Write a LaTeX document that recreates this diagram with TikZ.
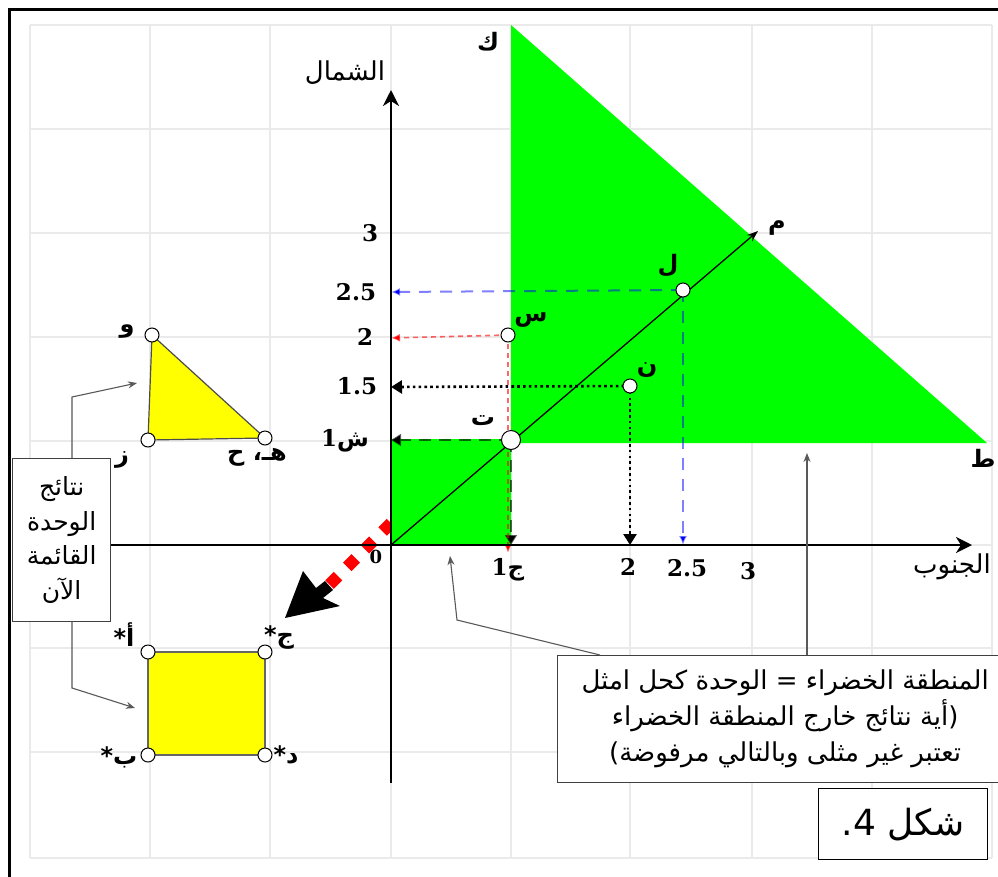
\documentclass[tikz,border=0pt]{standalone}
\usepackage{fontspec}
\usetikzlibrary{arrows.meta}
\TeXXeTstate=1
\newfontfamily\arf[Script=Arabic]{DejaVu Sans}
\newfontfamily\numf{DejaVu Serif}
\newcommand\AR[1]{{\arf\beginR #1\endR}}
\definecolor{grn}{RGB}{0,255,0}
\definecolor{ylw}{RGB}{255,255,0}
\definecolor{gridc}{RGB}{234,234,234}
\begin{document}
\begin{tikzpicture}[x=1pt,y=-1pt,
 gridline/.style={draw=gridc,line width=1.3pt},
 pt/.style={circle,draw=black,fill=white,line width=1pt,inner sep=0pt,minimum size=14pt},
 num/.style={font=\numf\bfseries\fontsize{23}{25}\selectfont,inner sep=0pt},
 lbl/.style={font=\arf\bfseries\fontsize{24}{26}\selectfont,inner sep=0pt},
 ttl/.style={font=\arf\fontsize{26}{28}\selectfont,inner sep=0pt},
 axisline/.style={line width=2.6pt,-{Stealth[length=16pt,width=16pt,inset=5pt]}},
 lead/.style={draw=black!65,line width=1.1pt,-{Stealth[length=9pt,width=7pt]}},
 bluedash/.style={blue,draw opacity=0.5,line width=2pt,dash pattern=on 12pt off 9pt,-{Latex[length=9pt,width=8pt]}},
 reddash/.style={red,draw opacity=0.6,line width=1.6pt,dash pattern=on 5pt off 4pt,-{Latex[length=9pt,width=8pt]}},
 blackdot/.style={black,line width=2.6pt,dash pattern=on 2.6pt off 3.2pt,-{Triangle[length=11pt,width=13pt]}},
 blackdash/.style={black,draw opacity=0.6,line width=1.8pt,dash pattern=on 12pt off 8pt,-{Triangle[length=10pt,width=12pt]}},
 boxstyle/.style={draw=black!75,fill=white,line width=1.3pt,inner sep=0pt,anchor=north west},
]
\useasboundingbox (0,0) rectangle (998,876);
\begin{scope}
\clip (0,0) rectangle (998,876);
\fill[white] (0,0) rectangle (998,876);
% grid
\foreach \x in {30,150,270,391,511,630,752,872,992} \draw[gridline] (\x,25) -- (\x,858);
\foreach \y in {25,129,233,337,441,545,648,752,858} \draw[gridline] (30,\y) -- (992,\y);
% frame
\draw[line width=3pt] (9,900) -- (9,9) -- (1010,9);

% coordinates
\coordinate (O) at (391,545);
\coordinate (M) at (758,231);
\coordinate (yL) at (391,292); \coordinate (xL) at (683,545);
\coordinate (yS) at (391,338); \coordinate (xS) at (508,545);
\coordinate (yN) at (391,387); \coordinate (xN) at (630,545);
\coordinate (yT) at (391,440); \coordinate (xT) at (511,545);
\coordinate (xa) at (12,545); \coordinate (xb) at (972,545);
\coordinate (ya) at (391,783); \coordinate (yb) at (391,90);
\coordinate (pL) at (683,290); \coordinate (pS) at (508,335);
\coordinate (pN) at (630,386); \coordinate (pT) at (511,440);
\coordinate (pW) at (152,335); \coordinate (pZ) at (148,440); \coordinate (pH) at (265,438);
\coordinate (pA) at (148,652); \coordinate (pJ) at (265,652);
\coordinate (pB) at (148,755); \coordinate (pD) at (265,755);

% red diamond arrow
\coordinate (rs) at (391,523); \coordinate (re) at (326,588);
\draw[red,line width=12pt,dash pattern=on 12pt off 13pt] (rs) -- (re);
\fill[black] (285,618) -- (303,571) -- (316,588) -- (325,581) -- (333,590) -- (323,598) -- (340,606) -- cycle;

% green region
\fill[grn] (391,545) -- (391,439) -- (511,439) -- (511,25) -- (987,443) -- (511,443) -- (511,545) -- cycle;

% yellow shapes
\filldraw[fill=ylw,draw=black!70,line width=1.2pt] (pW) -- (pZ) -- (pH) -- cycle;
\filldraw[fill=ylw,draw=black!60,line width=1.2pt] (pA) -- (pJ) -- (pD) -- (pB) -- cycle;

% projection lines
\draw[bluedash] (pL) -- (yL);
\draw[bluedash] (pL) -- (xL);
\draw[blackdash] (pT) -- (yT);
\draw[blackdash] (pT) -- (xT);
\draw[reddash] (pS) -- (yS);
\draw[reddash] (pS) -- ([yshift=-8pt]xS);
\draw[blackdot] (pN) -- (yN);
\draw[blackdot] (pN) -- (xN);

% diagonal
\draw[line width=1.3pt,-{Stealth[length=11pt,width=8pt]}] (O) -- (M);

% axes
\draw[axisline] (xa) -- (xb);
\draw[line width=2.6pt,-{Stealth[length=16pt,width=16pt,inset=5pt]}] (ya) -- (yb);

% points
\node[pt] (L) at (pL) {};
\node[pt] (S) at (pS) {};
\node[pt] (N) at (pN) {};
\node[pt,minimum size=19pt] (T) at (pT) {};
\node[pt] (W) at (pW) {};
\node[pt] (Z) at (pZ) {};
\node[pt] (H) at (pH) {};
\node[pt] (A) at (pA) {};
\node[pt] (J) at (pJ) {};
\node[pt] (B) at (pB) {};
\node[pt] (D) at (pD) {};

% point labels
\node[lbl] (lK) at (488,42) {\AR{ك}};
\node[lbl] (lM) at (777,228) {\AR{م}};
\node[lbl] (lL) at (668,266) {\AR{ل}};
\node[lbl] (lS) at (531,320) {\AR{س}};
\node[lbl] (lN) at (647,370) {\AR{ن}};
\node[lbl] (lT) at (483,421) {\AR{ت}};
\node[lbl] (lTa) at (983,458) {\AR{ط}};
\node[lbl] (lW) at (127,332) {\AR{و}};
\node[lbl] (lZ) at (122,460) {\AR{ز}};
\node[lbl] (lH) at (257,457) {\AR{هـ، ح}};
\node[lbl] (lA) at (124,635) {\AR{أ\kern0pt*}};
\node[lbl] (lJ) at (279,638) {\AR{ج\kern0pt*}};
\node[lbl] (lB) at (119,757) {\AR{ب\kern0pt*}};
\node[lbl] (lD) at (286,755) {\AR{د\kern0pt*}};

% axis titles
\node[ttl] (north) at (345,73) {\AR{الشمال}};
\node[ttl] (south) at (952,567) {\AR{الجنوب}};

% axis numbers
\node[num] (y3) at (370,233) {3};
\node[num] (y25) at (356,292) {2.5};
\node[num] (y2) at (365,337) {2};
\node[num] (y15) at (357,386) {1.5};
\node[num] (y1) at (345,441) {\beginR{\arf ش}1\endR};
\node[num,font=\numf\bfseries\fontsize{18}{20}\selectfont] (x0) at (376,557) {0};
\node[num] (x1) at (508,570) {\beginR{\arf ج}1\endR};
\node[num] (x2) at (628,567) {2};
\node[num] (x25) at (687,568) {2.5};
\node[num] (x3) at (748,571) {3};

% left callout box
\node[boxstyle,minimum width=98pt,minimum height=163pt,align=center,
      font=\arf\fontsize{25}{34.5}\selectfont] (res) at (12,458)
      {\AR{نتائج}\\\AR{الوحدة}\\\AR{القائمة}\\\AR{الآن}};
\coordinate (r1) at (72,458); \coordinate (r1b) at (72,397); \coordinate (r1e) at (137,383);
\coordinate (r2) at (72,621); \coordinate (r2b) at (72,688); \coordinate (r2e) at (135,708);
\draw[lead] (r1) -- (r1b) -- (r1e);
\draw[lead] (r2) -- (r2b) -- (r2e);

% green-region callout box
\node[boxstyle,minimum width=455pt,minimum height=127pt,align=center,
      font=\arf\fontsize{26}{36}\selectfont] (gbox) at (557,655)
      {\AR{المنطقة الخضراء = الوحدة كحل امثل}\\\AR{(أية نتائج خارج المنطقة الخضراء}\\\AR{تعتبر غير مثلى وبالتالي مرفوضة)}};
\coordinate (g1) at (600,655); \coordinate (g1b) at (457,620); \coordinate (g1e) at (450,556);
\coordinate (g2) at (807,655); \coordinate (g2e) at (807,453);
\draw[lead] (g1) -- (g1b) -- (g1e);
\draw[lead] (g2) -- (g2e);

% figure caption
\node[boxstyle,draw=black,minimum width=169pt,minimum height=71pt,
      font=\arf\fontsize{36}{40}\selectfont] (fig) at (818,788) {\AR{شكل 4\kern0pt.}};
\end{scope}
\end{tikzpicture}
\end{document}
